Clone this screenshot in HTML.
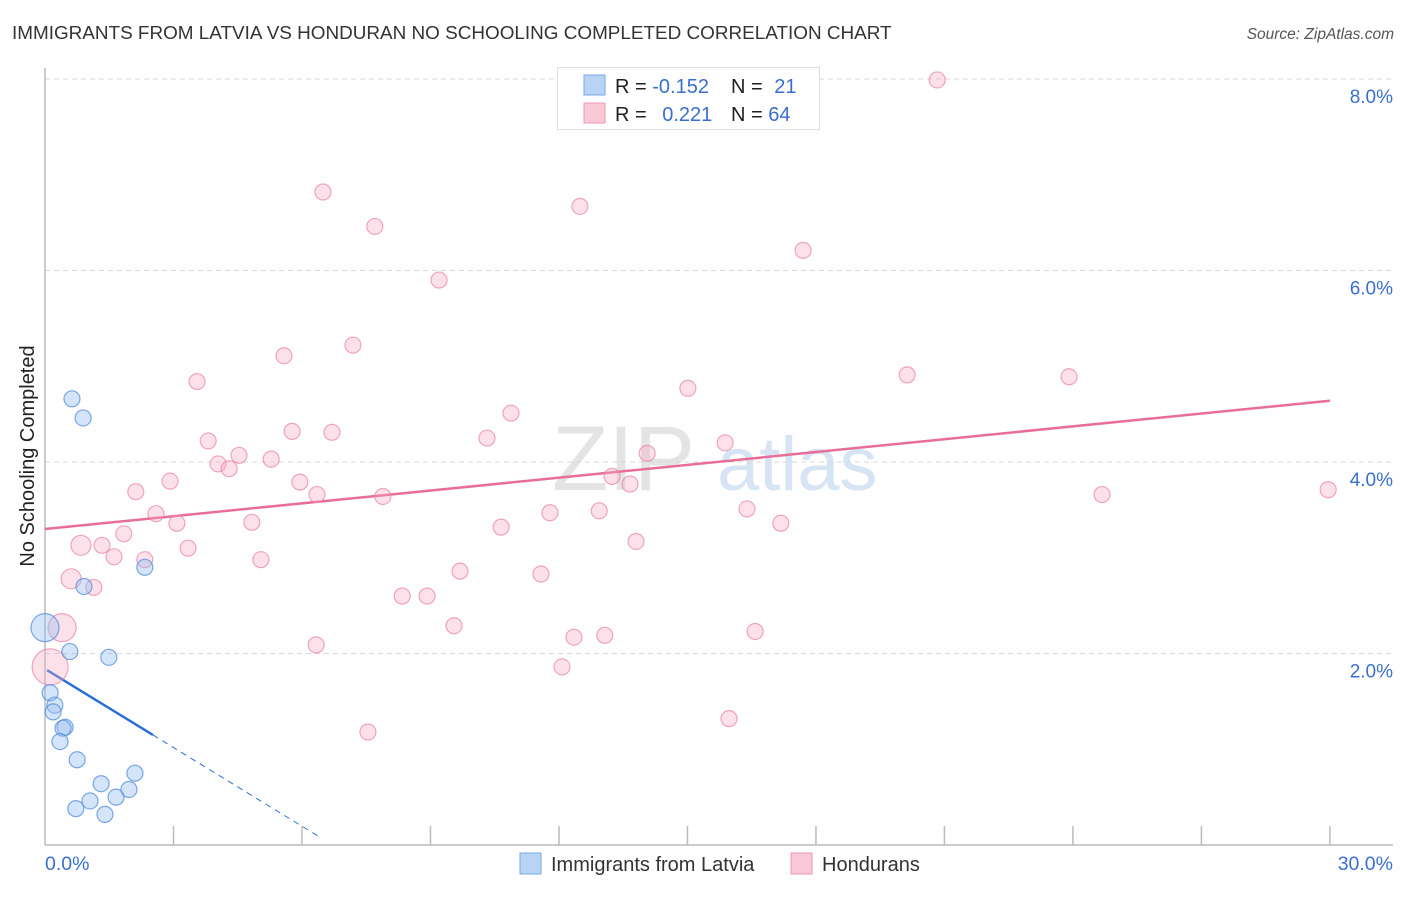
<!DOCTYPE html>
<html><head><meta charset="utf-8"><style>
body{margin:0;background:#fff;font-family:"Liberation Sans",sans-serif;}
svg text{font-family:"Liberation Sans",sans-serif;}
</style></head><body>
<svg id="chart" width="1406" height="892" viewBox="0 0 1406 892" xmlns="http://www.w3.org/2000/svg">
<text x="12" y="39" font-size="18.9" fill="#333">IMMIGRANTS FROM LATVIA VS HONDURAN NO SCHOOLING COMPLETED CORRELATION CHART</text>
<text x="1394" y="39" font-size="15.5" fill="#555" font-style="italic" text-anchor="end">Source: ZipAtlas.com</text>
<g>
<text x="552" y="490" font-size="92" font-family="Liberation Serif" fill="#e4e4e4">ZIP</text>
<text x="717" y="490" font-size="76" fill="#d6e4f4">atlas</text>
</g>
<g id="grid"></g>
<g id="axes"></g>
<text transform="translate(34,456) rotate(-90)" font-size="20" fill="#222" text-anchor="middle">No Schooling Completed</text>
<g id="lines"></g>
<g id="pts"></g>
<g>
<rect x="557.5" y="67.5" width="262" height="62" fill="#fff" stroke="#ddd"/>
<rect x="584" y="75" width="21" height="20" fill="#b9d3f4" stroke="#7aaae6"/>
<rect x="584" y="103" width="21" height="20" fill="#fac8d6" stroke="#ee99b4"/>
<text x="615" y="93" font-size="20" fill="#222">R = <tspan fill="#3a6fd0">-0.152</tspan></text>
<text x="731" y="93" font-size="20" fill="#222">N = <tspan fill="#3a6fd0" dx="6">21</tspan></text>
<text x="615" y="121" font-size="20" fill="#222">R = <tspan fill="#3a6fd0" dx="10">0.221</tspan></text>
<text x="731" y="121" font-size="20" fill="#222">N = <tspan fill="#3a6fd0">64</tspan></text>
</g>
<g>
<rect x="520" y="853" width="21" height="21" fill="#b9d3f4" stroke="#7aaae6"/>
<text x="551" y="871" font-size="20" fill="#333">Immigrants from Latvia</text>
<rect x="791" y="853" width="21" height="21" fill="#fac8d6" stroke="#ee99b4"/>
<text x="822" y="871" font-size="20" fill="#333">Hondurans</text>
</g>
</svg>
<script>
const yTicks=[2,4,6,8];
const yTickLabels=["2.0%","4.0%","6.0%","8.0%"];
const xTicks=[3,6,9,12,15,18,21,24,27,30];
const xEndLabels=["0.0%","30.0%"];
const latviaX=[0.0,0.63,0.89,0.91,2.33,0.58,1.49,0.12,0.23,0.19,0.47,0.42,0.35,0.75,1.31,2.10,1.05,1.66,1.96,0.72,1.40];
const latviaY=[2.27,4.66,4.46,2.70,2.90,2.02,1.96,1.59,1.46,1.39,1.23,1.22,1.08,0.89,0.64,0.75,0.46,0.50,0.58,0.38,0.32];
const latviaR=[14,8,8,8,8,8,8,8,8,8,8,8,8,8,8,8,8,8,8,8,8];
const hondX=[20.83,6.49,12.49,7.70,17.70,9.20,7.19,5.58,20.13,23.91,3.55,15.01,10.88,3.81,5.77,6.70,10.32,15.88,4.53,14.06,5.28,4.04,4.30,13.24,13.66,2.92,5.95,2.12,6.35,7.89,24.68,29.96,2.59,4.83,3.08,12.94,11.79,16.39,17.18,10.65,1.84,0.84,1.33,3.34,13.80,2.33,1.61,5.04,0.61,1.14,9.69,11.58,8.34,8.92,9.55,0.40,6.33,12.35,13.07,16.58,12.07,0.12,15.97,7.54];
const hondY=[7.99,6.82,6.67,6.46,6.21,5.90,5.22,5.11,4.91,4.89,4.84,4.77,4.51,4.22,4.32,4.31,4.25,4.20,4.07,4.09,4.03,3.98,3.93,3.85,3.77,3.80,3.79,3.69,3.66,3.64,3.66,3.71,3.46,3.37,3.36,3.49,3.47,3.51,3.36,3.32,3.25,3.13,3.13,3.10,3.17,2.98,3.01,2.98,2.78,2.69,2.86,2.83,2.60,2.60,2.29,2.27,2.09,2.17,2.19,2.23,1.86,1.86,1.32,1.18];
const hondR=[8,8,8,8,8,8,8,8,8,8,8,8,8,8,8,8,8,8,8,8,8,8,8,8,8,8,8,8,8,8,8,8,8,8,8,8,8,8,8,8,8,10,8,8,8,8,8,8,10,8,8,8,8,8,8,14,8,8,8,8,8,18,8,8];
const hondTrend=[3.30,4.64];
const latviaTrend=[1.84,-0.274];
const latviaSolidEnd=2.52, latviaDashEnd=6.4;

const NS="http://www.w3.org/2000/svg";
const X=v=>45+v*42.83, Y=v=>845-v*95.75;
function mk(tag,attrs,parent){const e=document.createElementNS(NS,tag);for(const k in attrs)e.setAttribute(k,attrs[k]);parent.appendChild(e);return e;}
const grid=document.getElementById('grid'),axes=document.getElementById('axes'),lines=document.getElementById('lines'),pts=document.getElementById('pts'),svg=document.getElementById('chart');
yTicks.forEach((t,i)=>{
 const l=mk('line',{x1:45,x2:1393,y1:Y(t),y2:Y(t),stroke:'#d8d8d8','stroke-dasharray':'5,4'},grid);
 
 
 const tx=mk('text',{x:1393,y:Y(t)+24,'font-size':19,fill:'#3a6fd0','text-anchor':'end'},svg);
 tx.textContent=yTickLabels[i];
 
 
});
mk('line',{x1:45,x2:45,y1:68,y2:845,stroke:'#bbb','stroke-width':1.5},axes);
mk('line',{x1:45,x2:1393,y1:845,y2:845,stroke:'#bbb','stroke-width':1.5},axes);
xTicks.forEach(t=>{
 const l=mk('line',{x1:X(t),x2:X(t),y1:826,y2:845,stroke:'#bbb','stroke-width':1.5},axes);
 
 
});
const xl0=mk('text',{x:45,y:870,'font-size':19.5,fill:'#3a6fd0'},svg);xl0.textContent=xEndLabels[0];


const xl1=mk('text',{x:1393,y:870,'font-size':19.5,fill:'#3a6fd0','text-anchor':'end'},svg);xl1.textContent=xEndLabels[1];


hondX.forEach((x,i)=>{
 const c=mk('circle',{cx:X(x),cy:Y(hondY[i]),r:hondR[i],fill:'rgba(246,170,195,0.35)',stroke:'rgba(232,130,165,0.7)','stroke-width':1.2},pts);
 
 
});
latviaX.forEach((x,i)=>{
 const c=mk('circle',{cx:X(x),cy:Y(latviaY[i]),r:latviaR[i],fill:'rgba(150,190,240,0.4)',stroke:'rgba(80,140,220,0.75)','stroke-width':1.2},pts);
 
 
});
const ht=mk('line',{x1:X(0),y1:Y(hondTrend[0]),x2:X(30),y2:Y(hondTrend[1]),stroke:'#e86e98','stroke-width':2.5},lines);


const ly=x=>latviaTrend[0]+latviaTrend[1]*x;
const ls=mk('line',{x1:X(0.05),y1:Y(ly(0.05)),x2:X(latviaSolidEnd),y2:Y(ly(latviaSolidEnd)),stroke:'#2a6fd6','stroke-width':2.5},lines);


const ld=mk('line',{x1:X(latviaSolidEnd),y1:Y(ly(latviaSolidEnd)),x2:X(latviaDashEnd),y2:Y(ly(latviaDashEnd)),stroke:'#2a6fd6','stroke-width':1,'stroke-dasharray':'6,5'},lines);


</script>
</body></html>
